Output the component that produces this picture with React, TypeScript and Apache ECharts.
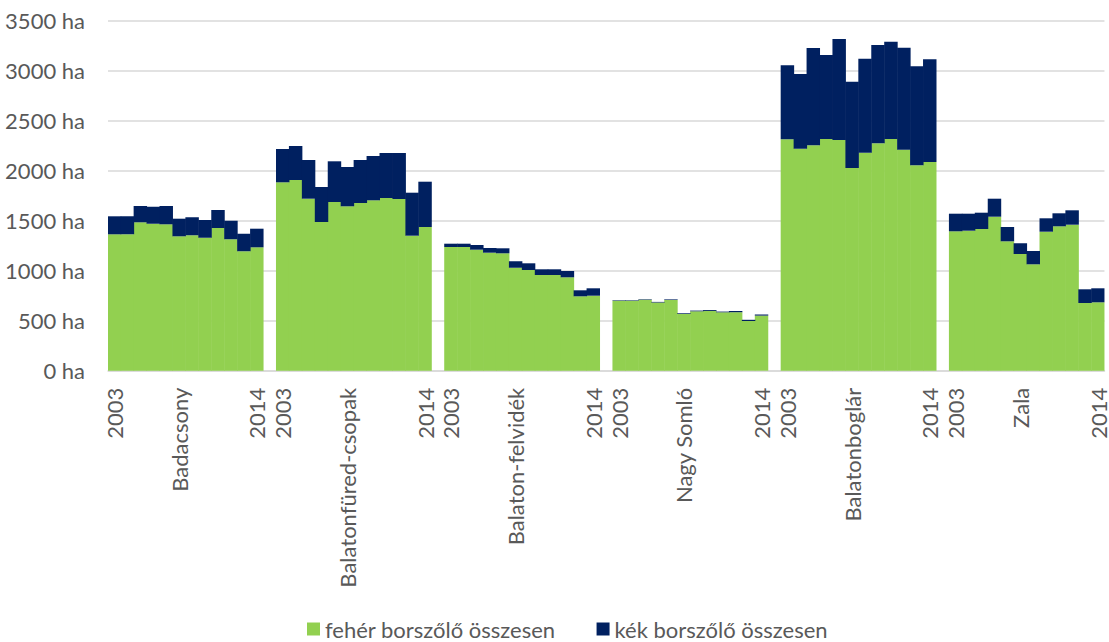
import React, { useEffect, useRef } from "react";
import * as echarts from "echarts";

const regions = [
  "Badacsony",
  "Balatonfüred-csopak",
  "Balaton-felvidék",
  "Nagy Somló",
  "Balatonboglár",
  "Zala",
];
const years = ["2003", "2004", "2005", "2006", "2007", "2008", "2009", "2010", "2011", "2012", "2013", "2014"];

// fehér borszőlő összesen (ha)
const whiteBadacsony = [1364, 1364, 1484, 1470, 1464, 1344, 1354, 1330, 1427, 1314, 1194, 1234];
const whiteFured = [1884, 1907, 1720, 1487, 1687, 1644, 1677, 1704, 1727, 1717, 1350, 1437];
const whiteFelvidek = [1237, 1237, 1210, 1180, 1174, 1030, 1007, 957, 957, 934, 744, 750];
const whiteSomlo = [700, 700, 709, 682, 708, 568, 594, 598, 584, 585, 497, 551];
const whiteBoglar = [2314, 2220, 2254, 2317, 2307, 2027, 2180, 2274, 2317, 2210, 2054, 2087];
const whiteZala = [1394, 1400, 1417, 1540, 1294, 1167, 1064, 1390, 1444, 1460, 677, 684];

// kék borszőlő összesen (ha)
const blueBadacsony = [180, 180, 163, 170, 183, 176, 180, 177, 180, 186, 176, 186];
const blueFured = [333, 340, 387, 350, 407, 393, 430, 443, 450, 460, 430, 453];
const blueFelvidek = [33, 33, 47, 47, 50, 64, 67, 57, 57, 63, 60, 74];
const blueSomlo = [5, 5, 5, 6, 6, 7, 7, 9, 7, 12, 12, 11];
const blueBoglar = [740, 747, 973, 840, 1010, 863, 940, 983, 973, 1020, 990, 1027];
const blueZala = [176, 170, 163, 180, 143, 107, 133, 134, 130, 144, 137, 140];

const yTicks = { min: 0, max: 3500, interval: 500 };
const seriesNames = ["fehér borszőlő összesen", "kék borszőlő összesen"];

const whiteAll = [whiteBadacsony, whiteFured, whiteFelvidek, whiteSomlo, whiteBoglar, whiteZala];
const blueAll = [blueBadacsony, blueFured, blueFelvidek, blueSomlo, blueBoglar, blueZala];

const FONT = "Lato, 'Open Sans', sans-serif";
const TEXT = "#595959";
const GREEN = "#92d050";
const NAVY = "#002060";

export default function App() {
  const ref = useRef<HTMLDivElement>(null);

  useEffect(() => {
    if (!ref.current) return;
    const chart = echarts.init(ref.current, undefined, { renderer: "svg" });

    const categories: string[] = [];
    const white: (number | null)[] = [];
    const blue: (number | null)[] = [];
    regions.forEach((r, k) => {
      years.forEach((y, i) => {
        categories.push(r + "|" + y);
        white.push(whiteAll[k][i]);
        blue.push(blueAll[k][i]);
      });
      if (k < regions.length - 1) {
        categories.push("gap" + k);
        white.push(null);
        blue.push(null);
      }
    });

    chart.setOption({
      animation: false,
      backgroundColor: "#ffffff",
      textStyle: { fontFamily: FONT },
      grid: { left: 108, right: 4, top: 20.7, bottom: 271.3, containLabel: false },
      legend: {
        data: seriesNames,
        left: 302,
        top: 613,
        icon: "rect",
        itemWidth: 13,
        itemHeight: 13,
        itemGap: 41,
        textStyle: { color: TEXT, fontSize: 22, lineHeight: 20, fontFamily: FONT },
      },
      xAxis: {
        type: "category",
        data: categories,
        boundaryGap: true,
        axisLine: { show: true, lineStyle: { color: "#d9d9d9", width: 1.5 } },
        axisTick: { show: false },
        axisLabel: {
          interval: 0,
          rotate: 90,
          margin: 17,
          color: TEXT,
          fontSize: 22,
          lineHeight: 16,
          fontFamily: FONT,
          formatter: (value: string) => {
            if (value.startsWith("gap")) return "";
            const [r, y] = value.split("|");
            const yi = years.indexOf(y);
            if (yi === 0 || yi === years.length - 1) return y;
            if (yi === 5) return r;
            return "";
          },
        },
        splitLine: { show: false },
      },
      yAxis: {
        type: "value",
        min: yTicks.min,
        max: yTicks.max,
        interval: yTicks.interval,
        axisLine: { show: false },
        axisTick: { show: false },
        axisLabel: {
          formatter: (v: number) => String(v) + " ha",
          color: TEXT,
          fontSize: 22,
          fontFamily: FONT,
          margin: 23,
        },
        splitLine: { lineStyle: { color: "#d9d9d9", width: 1.5 } },
      },
      series: [
        {
          name: seriesNames[0],
          type: "bar",
          stack: "total",
          data: white,
          barWidth: "104%",
          barGap: "0%",
          itemStyle: { color: GREEN },
        },
        {
          name: seriesNames[1],
          type: "bar",
          stack: "total",
          data: blue,
          barWidth: "104%",
          barGap: "0%",
          itemStyle: { color: NAVY },
        },
      ],
    });

    return () => chart.dispose();
  }, []);

  return (
    <div
      ref={ref}
      style={{ position: "fixed", left: 0, top: 0, width: 1109, height: 642, background: "#fff" }}
    />
  );
}
